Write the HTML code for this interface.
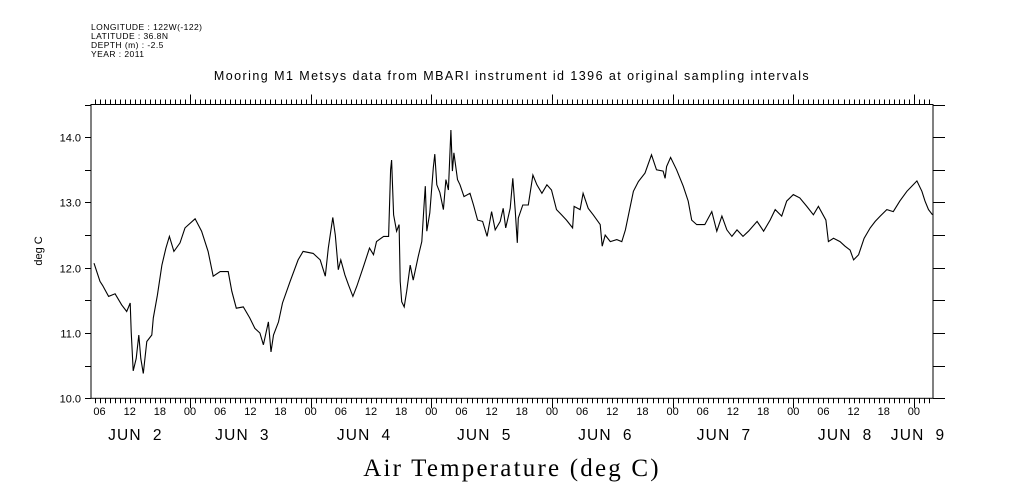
<!DOCTYPE html>
<html><head><meta charset="utf-8">
<style>
body{margin:0;background:#fff;}
svg{display:block;font-family:"Liberation Sans",sans-serif;}
</style></head>
<body>
<svg id="chart" width="1009" height="504" viewBox="0 0 1009 504" xmlns="http://www.w3.org/2000/svg">
<g font-size="8.5" fill="#000" letter-spacing="0.45">
<text x="91" y="30">LONGITUDE : 122W(-122)</text>
<text x="91" y="39">LATITUDE : 36.8N</text>
<text x="91" y="48">DEPTH (m) : -2.5</text>
<text x="91" y="57">YEAR : 2011</text>
</g>
<text x="512" y="80" text-anchor="middle" font-size="12.5" letter-spacing="1.45">Mooring M1 Metsys data from MBARI instrument id 1396 at original sampling intervals</text>
<text transform="translate(42,251) rotate(-90)" text-anchor="middle" font-size="11">deg C</text>
<text x="512" y="476" text-anchor="middle" font-family="Liberation Serif, serif" font-size="25" letter-spacing="2.2">Air Temperature (deg C)</text>
<g id="axes"></g>
<g id="series"></g>
</svg>
<script>
const hours=[4.9,6.1,6.6,7.8,9.1,10.4,11.4,12.1,12.3,12.7,13.3,13.8,14.2,14.7,15.4,16.4,16.7,17.5,18.4,19.2,19.9,20.8,22.0,23.0,25.0,26.3,27.6,28.6,30.0,31.6,32.3,33.2,34.6,35.9,36.9,37.9,38.6,39.6,40.1,40.6,41.6,42.4,43.9,45.5,46.5,48.5,49.9,50.9,51.5,52.4,52.9,53.5,54.0,54.8,55.5,56.4,57.2,58.5,59.7,60.5,61.1,62.5,63.5,63.9,64.1,64.5,65.1,65.6,65.8,66.1,66.6,67.1,67.8,68.4,69.4,70.1,70.6,70.8,71.1,71.7,72.4,72.7,73.1,73.7,74.4,74.9,75.4,75.9,76.2,76.5,77.2,77.7,78.5,79.7,80.4,81.2,82.2,83.1,84.0,84.7,85.7,86.3,86.8,87.7,88.2,88.7,89.1,89.3,90.2,91.3,92.2,93.0,94.0,95.0,95.9,96.9,97.9,98.9,100.1,100.4,101.6,102.2,103.2,104.2,105.6,106.0,106.6,107.6,108.9,109.9,110.6,112.2,113.2,114.5,115.8,116.8,118.1,118.5,118.8,119.6,120.8,122.1,123.1,123.8,124.8,126.4,127.8,128.8,129.8,130.8,131.8,132.8,134.0,135.1,136.8,138.1,139.4,140.4,141.7,142.7,144.0,145.3,146.7,148.0,149.0,150.5,151.0,152.0,153.3,154.3,155.3,156.0,157.0,158.1,159.3,160.3,161.3,162.6,163.9,165.2,166.6,167.6,168.6,169.6,170.2,170.9,171.7];
const temps=[12.07,11.79,11.73,11.56,11.6,11.43,11.33,11.46,11.02,10.42,10.61,10.97,10.61,10.38,10.87,10.97,11.23,11.58,12.04,12.30,12.48,12.25,12.38,12.61,12.75,12.56,12.25,11.87,11.94,11.94,11.64,11.38,11.40,11.23,11.07,11.0,10.82,11.17,10.71,10.97,11.17,11.46,11.79,12.12,12.25,12.22,12.12,11.87,12.30,12.77,12.50,11.97,12.12,11.89,11.74,11.56,11.72,12.02,12.30,12.20,12.40,12.48,12.48,13.50,13.65,12.81,12.56,12.66,11.79,11.48,11.40,11.64,12.04,11.81,12.17,12.40,13.02,13.25,12.56,12.84,13.53,13.74,13.27,13.15,12.89,13.35,13.19,14.11,13.48,13.76,13.35,13.27,13.09,13.14,12.96,12.73,12.71,12.48,12.86,12.58,12.71,12.91,12.61,12.91,13.37,12.86,12.38,12.76,12.96,12.96,13.42,13.27,13.14,13.27,13.19,12.89,12.81,12.73,12.61,12.94,12.89,13.14,12.91,12.81,12.66,12.33,12.50,12.40,12.43,12.40,12.58,13.17,13.32,13.45,13.73,13.50,13.48,13.37,13.55,13.69,13.50,13.25,13.02,12.73,12.66,12.66,12.86,12.56,12.79,12.58,12.48,12.58,12.48,12.56,12.71,12.56,12.73,12.89,12.79,13.02,13.12,13.07,12.94,12.81,12.94,12.73,12.40,12.45,12.40,12.33,12.27,12.12,12.20,12.45,12.61,12.71,12.79,12.89,12.86,13.02,13.17,13.25,13.33,13.17,13.02,12.89,12.81];
const yTicks=[10.0,10.5,11.0,11.5,12.0,12.5,13.0,13.5,14.0,14.5];
const yTickLabels=["10.0","","11.0","","12.0","","13.0","","14.0",""];
const hourLabelHours=[6,12,18,24,30,36,42,48,54,60,66,72,78,84,90,96,102,108,114,120,126,132,138,144,150,156,162,168];
const hourLabels=["06","12","18","00","06","12","18","00","06","12","18","00","06","12","18","00","06","12","18","00","06","12","18","00","06","12","18","00"];
const dayLabelHours=[7.7,29,53.2,77.1,101.2,124.8,148.9,163.4];
const dayLabels=["JUN  2","JUN  3","JUN  4","JUN  5","JUN  6","JUN  7","JUN  8","JUN  9"];

const L=91,R=933,T=104.5,B=398.3;
const H0=4.3,H1=171.8;
const xs=h=>L+(h-H0)/(H1-H0)*(R-L);
const ys=t=>B-(t-10)/(14.5-10)*(B-T);
const NS="http://www.w3.org/2000/svg";
const axes=document.getElementById('axes'),series=document.getElementById('series');
function mk(tag,attrs,parent){const e=document.createElementNS(NS,tag);for(const k in attrs)e.setAttribute(k,attrs[k]);parent.appendChild(e);return e;}

const frame=mk('rect',{x:L,y:T,width:R-L,height:B-T,fill:'none',stroke:'#000','stroke-width':1},axes);



let tp='';
for(let h=Math.ceil(H0);h<=H1;h++){
  const x=Math.round(xs(h))+0.5;
  const big=(h%24===0)?10:5;
  tp+=`M${x} ${B}v${big}M${x} ${T}v${-big}`;
}
const ticks=mk('path',{d:tp,stroke:'#000','stroke-width':1,fill:'none'},axes);



let yp='';
yTicks.forEach((t,i)=>{const y=Math.round(ys(t))+0.5;yp+=`M${L} ${y}h-6M${R} ${y}h12`;
  if(yTickLabels[i]){const tx=mk('text',{x:L-10,y:y+4,'text-anchor':'end','font-size':11},axes);tx.textContent=yTickLabels[i];
  
  }
});
const yt=mk('path',{d:yp,stroke:'#000','stroke-width':1},axes);



hourLabelHours.forEach((h,i)=>{const tx=mk('text',{x:xs(h),y:415,'text-anchor':'middle','font-size':11},axes);tx.textContent=hourLabels[i];
  
  });
dayLabelHours.forEach((h,i)=>{const tx=mk('text',{x:xs(h),y:440,'font-size':15.5,'letter-spacing':1.2},axes);tx.style.whiteSpace='pre';tx.textContent=dayLabels[i];
  
  });

const d=hours.map((h,i)=>(i?'L':'M')+xs(h).toFixed(1)+' '+ys(temps[i]).toFixed(1)).join('');
const line=mk('path',{d:d,fill:'none',stroke:'#000','stroke-width':1.1},series);


</script>
</body></html>
